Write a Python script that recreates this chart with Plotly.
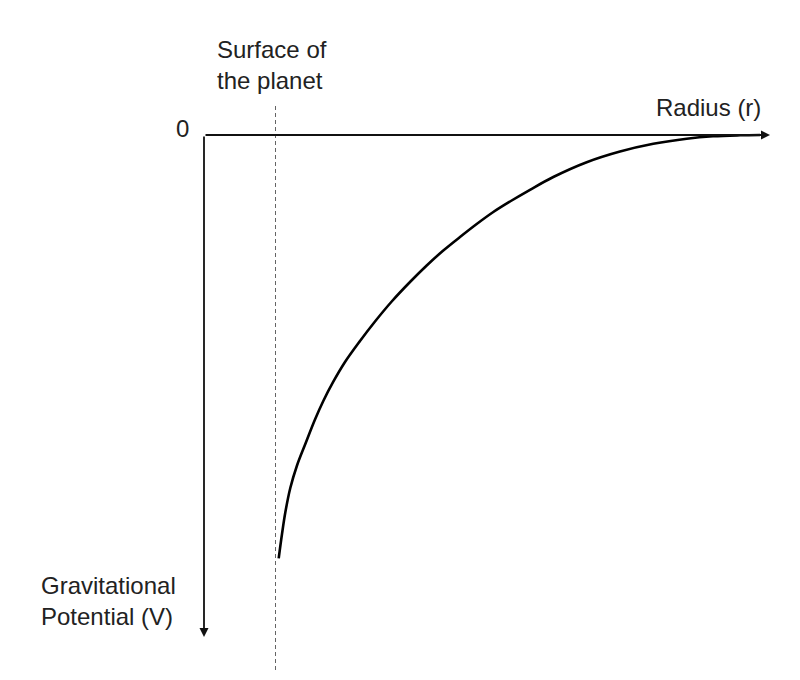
import plotly.graph_objects as go

# curve (schematic units, origin at the axes corner)
radius = [0.747, 0.780, 0.813, 0.863, 0.930, 1.015, 1.110, 1.193, 1.293, 1.410,
          1.560, 1.710, 1.877, 2.060, 2.227, 2.393, 2.560, 2.727, 2.893, 3.060,
          3.260, 3.493, 3.827, 4.160, 4.493, 4.827, 5.090, 5.360, 5.560]
potential = [-4.233, -3.990, -3.775, -3.530, -3.305, -3.085, -2.845, -2.660, -2.467, -2.270,
             -2.060, -1.865, -1.665, -1.470, -1.305, -1.155, -1.020, -0.890, -0.770, -0.665,
             -0.548, -0.420, -0.272, -0.165, -0.088, -0.037, -0.013, -0.003, 0.0]

surface_r = 0.715
surface_span = [0.29, -5.37]
r_axis_end = 5.66
v_axis_end = -5.02

FONT = 'Liberation Sans'
TEXT = '#222'

fig = go.Figure()

# dashed surface line
fig.add_trace(go.Scatter(x=[surface_r, surface_r], y=surface_span,
                         mode='lines',
                         line=dict(color='rgb(100,100,100)', width=1, dash='4px,3px'),
                         hoverinfo='none'))

# potential curve
fig.add_trace(go.Scatter(x=radius, y=potential,
                         mode='lines',
                         line=dict(color='black', width=2.6, shape='spline', smoothing=1.0),
                         hoverinfo='none'))

annotations = [
    # axes drawn as arrows
    dict(x=r_axis_end, y=0, ax=0, ay=0, xref='x', yref='y', axref='x', ayref='y',
         showarrow=True, arrowhead=2, arrowsize=1, arrowwidth=1.8, arrowcolor='#111', text=''),
    dict(x=0, y=v_axis_end, ax=0, ay=0, xref='x', yref='y', axref='x', ayref='y',
         showarrow=True, arrowhead=2, arrowsize=1, arrowwidth=1.8, arrowcolor='#111', text=''),
    dict(x=-0.22, y=0.07, text='0', showarrow=False, xanchor='center', yanchor='middle',
         font=dict(family=FONT, size=24, color=TEXT)),
    dict(x=0.11, y=0.70, text='Surface of<br>the planet', showarrow=False,
         xanchor='left', yanchor='middle', align='left',
         font=dict(family=FONT, size=24, color=TEXT)),
    dict(x=5.59, y=0.28, text='Radius (r)', showarrow=False, xanchor='right', yanchor='middle',
         font=dict(family=FONT, size=24, color=TEXT)),
    dict(x=-1.65, y=-4.66, text='Gravitational<br>Potential (V)', showarrow=False,
         xanchor='left', yanchor='middle', align='left',
         font=dict(family=FONT, size=24, color=TEXT)),
]

axis = dict(showline=False, zeroline=False, showgrid=False, showticklabels=False, fixedrange=True)

# page body has an 8px margin, so the figure is a little smaller than the window
fig.update_layout(width=784, height=664,
                  margin=dict(l=0, r=0, t=0, b=0),
                  showlegend=False,
                  plot_bgcolor='white', paper_bgcolor='white',
                  xaxis=dict(axis, range=[-1.96, 5.88]),
                  yaxis=dict(axis, range=[-5.37, 1.27]),
                  annotations=annotations)

fig.write_html("out.html")
